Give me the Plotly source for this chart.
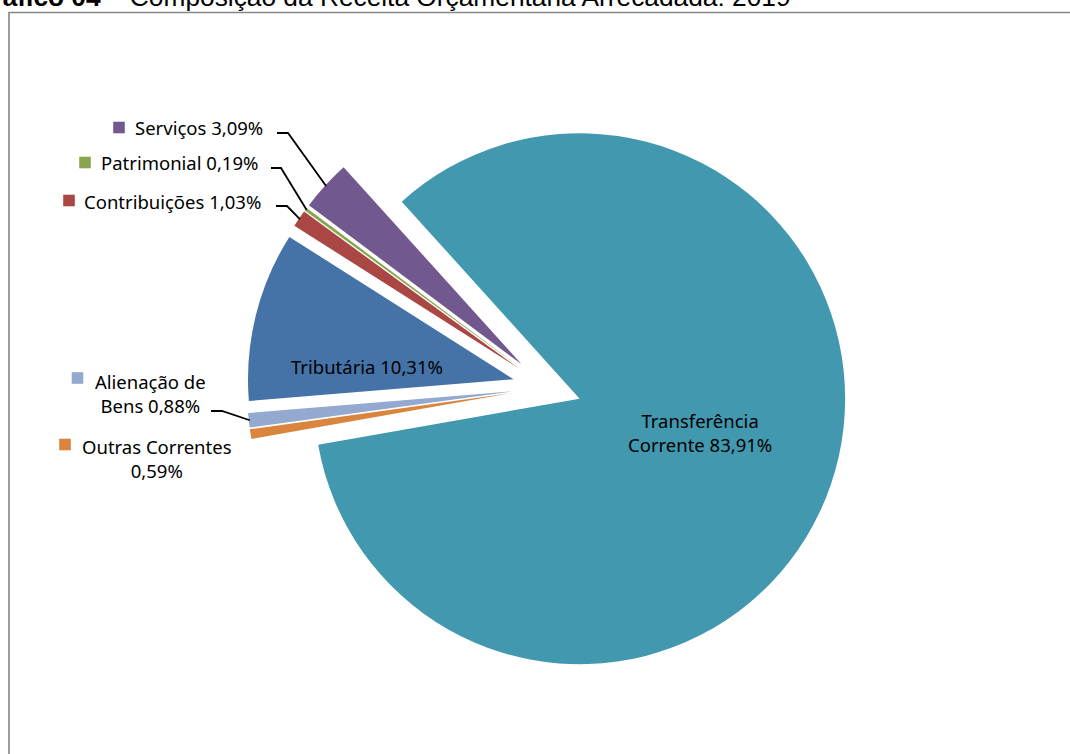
import math
import plotly.graph_objects as go

# ---------------- data ----------------
labels = ["Tributária", "Contribuições", "Patrimonial", "Serviços",
          "Transferência Corrente", "Outras Correntes", "Alienação de Bens"]
values = [10.31, 1.03, 0.19, 3.09, 83.91, 0.59, 0.88]
value_text = ["10,31%", "1,03%", "0,19%", "3,09%", "83,91%", "0,59%", "0,88%"]
colors = ["#4572A7", "#AA4643", "#89A54E", "#71588F", "#4198AF", "#DB843D", "#93A9CF"]
title_bold = "Gráfico 04 –"
title_rest = "Composição da Receita Orçamentária Arrecadada: 2019"

# ---------------- layout constants (pixels) ----------------
W, H = 1070, 754
CX, CY, R = 547.0, 387.5, 265.5
PULL = 0.13
ROTATION = 265.3
FONT = "Noto Sans"
FS = 18.5

box = 2 * R * (1 + PULL)
dom_x = [(CX - box / 2) / W, (CX + box / 2) / W]
dom_y = [1 - (CY + box / 2) / H, 1 - (CY - box / 2) / H]


def px(x):
    return x / W


def py(y):
    return 1 - y / H


# mid angle of each slice (clockwise from 12 o'clock)
total = sum(values)
mids = []
acc = 0.0
for v in values:
    mids.append(ROTATION + 360.0 * (acc + v / 2) / total)
    acc += v


def edge_point(i, inset=1.0):
    a = math.radians(mids[i])
    d = (1 + PULL) * R - inset
    return CX + d * math.sin(a), CY - d * math.cos(a)


fig = go.Figure(go.Pie(
    labels=labels, values=values, sort=False, direction="clockwise",
    rotation=ROTATION, pull=[PULL] * len(values), textinfo="none",
    marker=dict(colors=colors, line=dict(width=0)),
    domain=dict(x=dom_x, y=dom_y), showlegend=False, hoverinfo="label+percent",
))

annotations = []
shapes = []

# title (partly cut at top, as in the reference)
annotations.append(dict(
    text=f"<b>{title_bold}</b> {title_rest}", x=0, y=1, xref="paper", yref="paper",
    xanchor="left", yanchor="bottom", xshift=-30, yshift=-13.8,
    showarrow=False, font=dict(family="Liberation Sans, Arial", size=26.3, color="black"),
))

# frame
shapes.append(dict(type="rect", xref="paper", yref="paper",
                   x0=px(9), x1=1.02, y0=-0.02, y1=py(12.5),
                   line=dict(color="#868686", width=1.6), fillcolor="rgba(0,0,0,0)"))

# inside labels
inside = {0: (367, 366), 4: (699.5, 432)}
for i, (x, y) in inside.items():
    txt = f"{labels[i]} {value_text[i]}" if i == 0 else "Transferência<br>Corrente " + value_text[i]
    annotations.append(dict(text=txt, x=px(x), y=py(y), xref="paper", yref="paper",
                            xanchor="center", yanchor="middle", showarrow=False,
                            font=dict(family=FONT, size=FS, color="black")))

# outside labels: (slice index, text anchor x, text center y, anchor side, square center, leader start, elbow)
outside = [
    (3, 265, 128, "right", (119, 127.5), (277, 133), (288, 133)),
    (2, 260, 163, "right", (85, 162.5), (271, 168), (281, 168)),
    (1, 263, 201, "right", (69, 200.5), (276, 206), (287, 206)),
    (6, 150, 393, "center", (77.5, 378), (211, 411), (222, 411)),
    (5, 157, 458.5, "center", (65, 444.5), None, None),
]
for i, tx, ty, anchor, sq, start, elbow in outside:
    if i == 6:
        txt = "Alienação de<br>Bens " + value_text[i]
    elif i == 5:
        txt = "Outras Correntes<br>" + value_text[i]
    else:
        txt = f"{labels[i]} {value_text[i]}"
    annotations.append(dict(text=txt, x=px(tx), y=py(ty), xref="paper", yref="paper",
                            xanchor=anchor, yanchor="middle", align="center",
                            showarrow=False, font=dict(family=FONT, size=FS, color="black")))
    s = 5.8
    shapes.append(dict(type="rect", xref="paper", yref="paper",
                       x0=px(sq[0] - s), x1=px(sq[0] + s), y0=py(sq[1] + s), y1=py(sq[1] - s),
                       fillcolor=colors[i], line=dict(width=0)))
    if start is not None:
        ex, ey = edge_point(i)
        path = (f"M {px(start[0])},{py(start[1])} L {px(elbow[0])},{py(elbow[1])} "
                f"L {px(ex)},{py(ey)}")
        shapes.append(dict(type="path", xref="paper", yref="paper", path=path,
                           line=dict(color="black", width=1.8)))

fig.update_layout(
    width=W, height=H, autosize=False,
    margin=dict(l=0, r=0, t=0, b=0),
    paper_bgcolor="white", plot_bgcolor="white",
    annotations=annotations, shapes=shapes,
)

fig.write_html("out.html")
